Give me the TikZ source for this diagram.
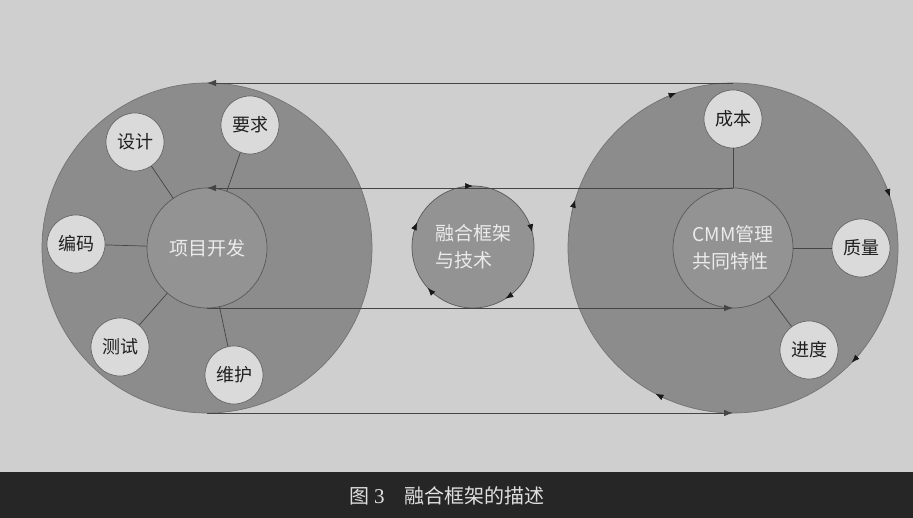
\documentclass[tikz,border=0pt]{standalone}
\usepackage{fontspec}
\setmainfont{Liberation Serif}
\newfontfamily\cjk{Noto Sans CJK SC}
\usetikzlibrary{arrows.meta}
\definecolor{bgcol}{HTML}{CFCFCF}
\definecolor{bigcol}{HTML}{8C8C8C}
\definecolor{innercol}{HTML}{939393}
\definecolor{satcol}{HTML}{DADADA}
\definecolor{linecol}{HTML}{454545}
\definecolor{barcol}{HTML}{262626}
\begin{document}
\begin{tikzpicture}[x=1pt,y=1pt,
  bigc/.style={circle, draw=black!55, fill=bigcol, line width=0.7pt, minimum size=330pt, inner sep=0pt, outer sep=0pt},
  innerc/.style={circle, draw=black!65, fill=innercol, line width=0.7pt, minimum size=120pt, inner sep=0pt, outer sep=0pt,
     font=\cjk\fontsize{19}{27}\selectfont, text=white!92!black, align=left},
  satc/.style={circle, draw=black!60, fill=satcol, line width=0.7pt, minimum size=58pt, inner sep=0pt,
     font=\cjk\fontsize{18}{22}\selectfont, text=black!88},
  spoke/.style={draw=linecol, line width=0.7pt},
  conn/.style={draw=linecol, line width=0.8pt},
  tip/.style={-{Latex[length=9pt,width=6.5pt]}},
  arctip/.style={draw=black!55, line width=0.7pt, -{Latex[length=8pt,width=6pt,color=black!90]}},
]
\useasboundingbox (0,0) rectangle (913,518);
\fill[bgcol] (0,0) rectangle (913,518);
\node[fill=barcol, minimum width=913pt, minimum height=46pt, inner sep=0pt, anchor=south west] (bar) at (0,0) {};
\node[anchor=west, text=white!88!black, inner sep=0pt] (cap) at (349,22)
  {{\cjk\fontsize{20}{24}\selectfont 图}\hspace{5pt}{\fontsize{21}{24}\selectfont 3}\hspace{20pt}{\cjk\fontsize{20}{24}\selectfont 融合框架的描述}};

% big circles
\node[bigc] (L) at (207,270) {};
\node[bigc] (R) at (733,270) {};

% satellites (left)
\node[satc] (yq) at (250,393) {要求};
\node[satc] (sj) at (135,376) {设计};
\node[satc] (bm) at (76,274) {编码};
\node[satc] (cs) at (120,171) {测试};
\node[satc] (wh) at (234,143) {维护};
% satellites (right)
\node[satc] (cb) at (733,399) {成本};
\node[satc] (zl) at (861,270) {质量};
\node[satc] (jd) at (809,168) {进度};

% inner circles
\node[innerc] (P) at (207,270) {项目开发};
\node[innerc] (C) at (733,270) {CMM管理\\共同特性};
\node[innerc, minimum size=122pt] (M) at (473,271) {融合框架\\与技术};

% spokes
\foreach \s in {yq,sj,bm,cs,wh} \draw[spoke] (P) -- (\s);
\foreach \s in {cb,zl,jd} \draw[spoke] (C) -- (\s);

% horizontal connectors
\draw[conn, tip] (R.north) -- (L.north);
\draw[conn, tip] (C.north) -- (P.north);
\draw[conn, tip] (P.south) -- (C.south);
\draw[conn, tip] (L.south) -- (R.south);

% rotation arrows on the circles (clockwise)
\foreach \a [evaluate=\a as \b using \a+5] in {110,18,316,242,163}
  \draw[arctip] (R.\b) arc[start angle=\b, end angle=\a, radius=165pt];
\foreach \a [evaluate=\a as \b using \a+8] in {90,14,302,222,156}
  \draw[arctip] (M.\b) arc[start angle=\b, end angle=\a, radius=61pt];
\end{tikzpicture}
\end{document}
